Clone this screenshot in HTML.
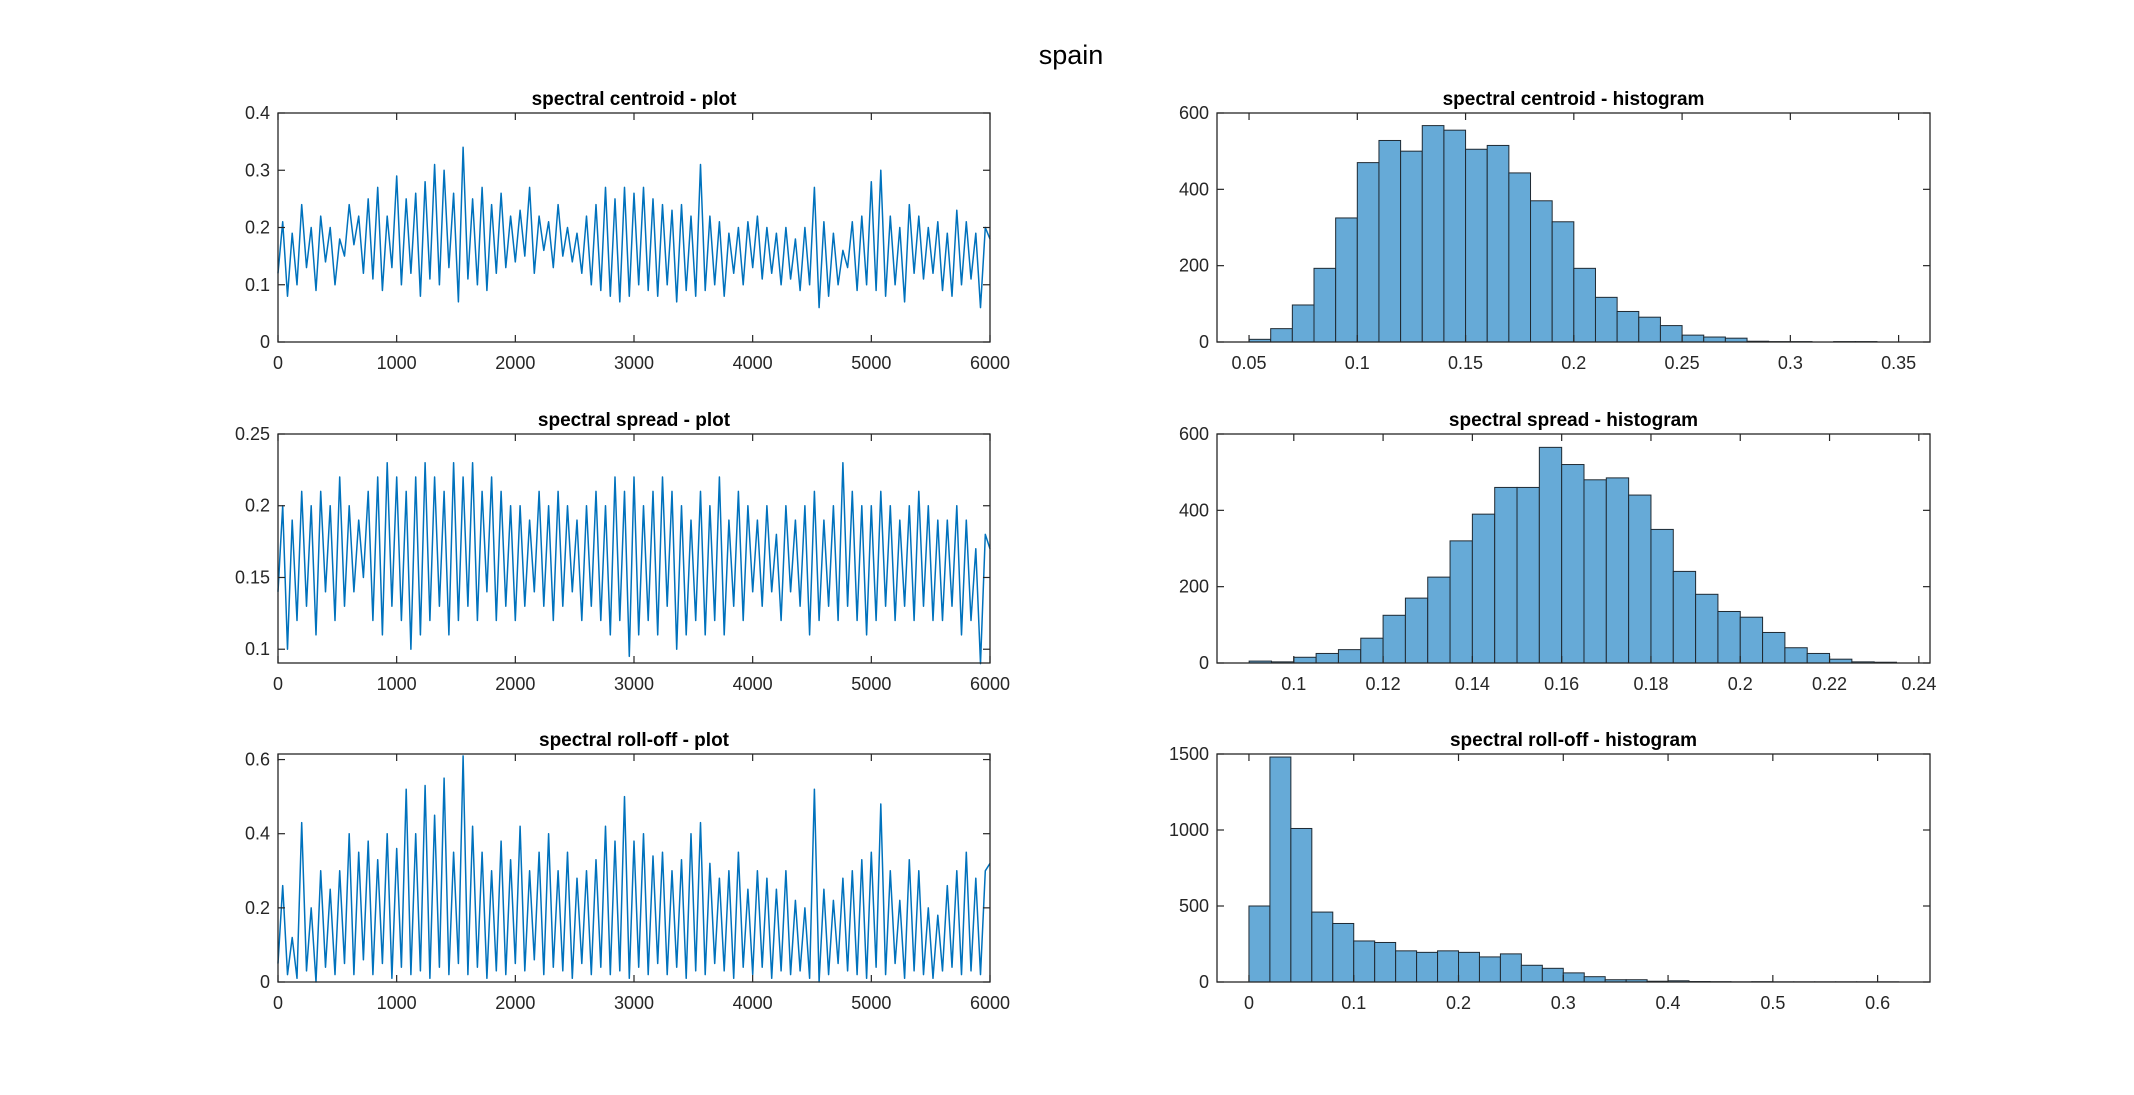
<!DOCTYPE html>
<html><head><meta charset="utf-8"><style>
html,body{margin:0;padding:0;background:#fff;}
svg{display:block;font-family:"Liberation Sans",Arial,sans-serif;}
</style></head><body>
<svg id="fig" width="2134" height="1095" viewBox="0 0 2134 1095" xmlns="http://www.w3.org/2000/svg">
<rect width="2134" height="1095" fill="#fff"/>
<text x="1071" y="64" font-size="27" text-anchor="middle" fill="#000">spain</text>
</svg>
<script>
const centroidSeries=[0.12,0.21,0.08,0.19,0.1,0.24,0.13,0.2,0.09,0.22,
0.14,0.2,0.1,0.18,0.15,0.24,0.17,0.22,0.12,0.25,
0.11,0.27,0.09,0.22,0.13,0.29,0.1,0.25,0.12,0.26,
0.08,0.28,0.11,0.31,0.1,0.3,0.13,0.26,0.07,0.34,
0.11,0.25,0.1,0.27,0.09,0.24,0.12,0.26,0.13,0.22,
0.14,0.23,0.15,0.27,0.12,0.22,0.16,0.21,0.13,0.24,
0.15,0.2,0.14,0.19,0.12,0.22,0.1,0.24,0.09,0.27,
0.08,0.25,0.07,0.27,0.08,0.26,0.1,0.27,0.09,0.25,
0.08,0.24,0.1,0.23,0.07,0.24,0.09,0.22,0.08,0.31,
0.09,0.22,0.1,0.21,0.08,0.19,0.12,0.2,0.1,0.21,
0.13,0.22,0.11,0.2,0.12,0.19,0.1,0.2,0.11,0.18,
0.09,0.2,0.1,0.27,0.06,0.21,0.08,0.19,0.1,0.16,
0.13,0.21,0.09,0.22,0.1,0.28,0.09,0.3,0.08,0.22,
0.1,0.2,0.07,0.24,0.12,0.22,0.11,0.2,0.12,0.21,
0.09,0.19,0.08,0.23,0.1,0.21,0.11,0.19,0.06,0.2,0.18];
const spreadSeries=[0.14,0.2,0.1,0.19,0.12,0.21,0.13,0.2,0.11,0.21,
0.14,0.2,0.12,0.22,0.13,0.2,0.14,0.19,0.15,0.21,
0.12,0.22,0.11,0.23,0.13,0.22,0.12,0.21,0.1,0.22,
0.11,0.23,0.12,0.22,0.13,0.21,0.11,0.23,0.12,0.22,
0.13,0.23,0.12,0.21,0.14,0.22,0.12,0.21,0.13,0.2,
0.12,0.2,0.13,0.19,0.14,0.21,0.13,0.2,0.12,0.21,
0.13,0.2,0.14,0.19,0.12,0.2,0.13,0.21,0.12,0.2,
0.11,0.22,0.12,0.21,0.095,0.22,0.11,0.2,0.12,0.21,
0.11,0.22,0.13,0.21,0.1,0.2,0.11,0.19,0.12,0.21,
0.11,0.2,0.12,0.22,0.11,0.19,0.13,0.21,0.12,0.2,
0.14,0.19,0.13,0.2,0.14,0.18,0.12,0.2,0.14,0.19,
0.13,0.2,0.11,0.21,0.12,0.19,0.13,0.2,0.12,0.23,
0.13,0.21,0.12,0.2,0.11,0.2,0.12,0.21,0.13,0.2,
0.12,0.19,0.13,0.2,0.12,0.21,0.13,0.2,0.12,0.19,
0.12,0.19,0.13,0.2,0.11,0.19,0.12,0.17,0.09,0.18,0.17];
const rolloffSeries=[0.05,0.26,0.02,0.12,0.01,0.43,0.03,0.2,0.0,0.3,
0.04,0.25,0.02,0.3,0.05,0.4,0.02,0.35,0.06,0.38,
0.02,0.33,0.05,0.4,0.01,0.36,0.04,0.52,0.02,0.4,
0.03,0.53,0.01,0.45,0.04,0.55,0.02,0.35,0.05,0.61,
0.02,0.42,0.04,0.35,0.01,0.3,0.03,0.38,0.02,0.33,
0.05,0.42,0.03,0.3,0.06,0.35,0.02,0.4,0.04,0.3,
0.03,0.35,0.01,0.28,0.05,0.3,0.02,0.33,0.04,0.42,
0.02,0.38,0.03,0.5,0.01,0.38,0.04,0.4,0.02,0.34,
0.05,0.35,0.02,0.3,0.04,0.33,0.01,0.4,0.03,0.43,
0.02,0.32,0.05,0.28,0.03,0.3,0.01,0.35,0.04,0.25,
0.02,0.3,0.04,0.28,0.01,0.25,0.03,0.3,0.02,0.22,
0.03,0.2,0.01,0.52,0.0,0.25,0.02,0.22,0.05,0.28,
0.03,0.3,0.02,0.33,0.01,0.35,0.04,0.48,0.02,0.3,
0.05,0.22,0.01,0.33,0.03,0.3,0.02,0.2,0.01,0.18,
0.03,0.26,0.04,0.3,0.02,0.35,0.03,0.28,0.02,0.3,0.32];
const centroidCounts=[7,35,97,193,325,470,528,500,567,555,505,515,443,370,315,193,117,80,65,43,18,13,10,2,1,1,0,1,1,0];
const spreadCounts=[5,3,15,25,35,65,125,170,225,320,390,460,460,565,520,480,485,440,350,240,180,135,120,80,40,25,10,3,2];
const rolloffCounts=[500,1480,1010,460,385,270,260,205,195,205,195,165,185,110,90,60,35,15,15,5,8,3,2,1,2,1,1,1,1,1,1];
const lineXTicks=[0,1000,2000,3000,4000,5000,6000];
const centroidYTicks=[0,0.1,0.2,0.3,0.4];
const spreadYTicks=[0.1,0.15,0.2,0.25];
const rolloffYTicks=[0,0.2,0.4,0.6];
const hist1XTicks=[0.05,0.1,0.15,0.2,0.25,0.3,0.35];
const hist2XTicks=[0.1,0.12,0.14,0.16,0.18,0.2,0.22,0.24];
const hist3XTicks=[0,0.1,0.2,0.3,0.4,0.5,0.6];
const hist12YTicks=[0,200,400,600];
const hist3YTicks=[0,500,1000,1500];

const NS="http://www.w3.org/2000/svg";
const svg=document.getElementById('fig');
function mk(tag,attrs,parent){const e=document.createElementNS(NS,tag);for(const k in attrs)e.setAttribute(k,attrs[k]);(parent||svg).appendChild(e);return e;}
const rows=[[113,342],[434,663],[754,982]];
const L=[278,990], R=[1217,1930];

function axes(name,box,xd,yd,xt,yt,title){
  const g=mk('g',{});
  
  
  const [x0,x1]=box.x,[y0,y1]=box.y;
  const sx=v=>x0+(v-xd[0])/(xd[1]-xd[0])*(x1-x0);
  const sy=v=>y1-(v-yd[0])/(yd[1]-yd[0])*(y1-y0);
  return {g,sx,sy,finish(){
    const fr=mk('rect',{x:x0,y:y0,width:x1-x0,height:y1-y0,fill:'none',stroke:'#262626','stroke-width':1.3},g);
    
    
    xt.forEach(v=>{const x=sx(v);
      mk('line',{x1:x,x2:x,y1:y1,y2:y1-7,stroke:'#262626','stroke-width':1.2},g);
      mk('line',{x1:x,x2:x,y1:y0,y2:y0+7,stroke:'#262626','stroke-width':1.2},g);
      const t=mk('text',{x:x,y:y1+27,'font-size':18,'text-anchor':'middle',fill:'#262626'},g);
      
      
      t.textContent=String(v);});
    yt.forEach(v=>{const y=sy(v);
      mk('line',{x1:x0,x2:x0+7,y1:y,y2:y,stroke:'#262626','stroke-width':1.2},g);
      mk('line',{x1:x1,x2:x1-7,y1:y,y2:y,stroke:'#262626','stroke-width':1.2},g);
      const t=mk('text',{x:x0-8,y:y+6,'font-size':18,'text-anchor':'end',fill:'#262626'},g);
      
      
      t.textContent=String(v);});
    const tt=mk('text',{x:(x0+x1)/2,y:y0-8,'font-size':19,'font-weight':'bold','text-anchor':'middle',fill:'#000'},g);
    
    
    tt.textContent=title;
  }};
}
function linePlot(name,row,series,yd,yt,title){
  const a=axes(name,{x:L,y:rows[row]},[0,6000],yd,lineXTicks,yt,title);
  const step=6000/(series.length-1);
  const pts=series.map((v,i)=>a.sx(i*step).toFixed(1)+','+a.sy(v).toFixed(1)).join(' ');
  const p=mk('polyline',{points:pts,fill:'none',stroke:'#0072BD','stroke-width':1.5,'stroke-linejoin':'round'},a.g);
  
  
  a.finish();
}
function histPlot(name,row,counts,start,w,xd,yd,xt,yt,title){
  const a=axes(name,{x:R,y:rows[row]},xd,yd,xt,yt,title);
  counts.forEach((c,i)=>{
    const xa=a.sx(start+i*w), xb=a.sx(start+(i+1)*w), y=a.sy(c), yb=a.sy(0);
    const r=mk('rect',{x:xa,y:y,width:xb-xa,height:Math.max(0,yb-y),fill:'#66AAD7',stroke:'#1f2a33','stroke-width':1},a.g);
    
    
  });
  a.finish();
}
linePlot('centroid-plot',0,centroidSeries,[0,0.4],centroidYTicks,'spectral centroid - plot');
linePlot('spread-plot',1,spreadSeries,[0.0904,0.25],spreadYTicks,'spectral spread - plot');
linePlot('rolloff-plot',2,rolloffSeries,[0,0.615],rolloffYTicks,'spectral roll-off - plot');
histPlot('centroid-histogram',0,centroidCounts,0.05,0.01,[0.0352,0.3645],[0,600],hist1XTicks,hist12YTicks,'spectral centroid - histogram');
histPlot('spread-histogram',1,spreadCounts,0.09,0.005,[0.0828,0.2425],[0,600],hist2XTicks,hist12YTicks,'spectral spread - histogram');
histPlot('rolloff-histogram',2,rolloffCounts,0,0.02,[-0.0305,0.65],[0,1500],hist3XTicks,hist3YTicks,'spectral roll-off - histogram');
</script>
</body></html>
